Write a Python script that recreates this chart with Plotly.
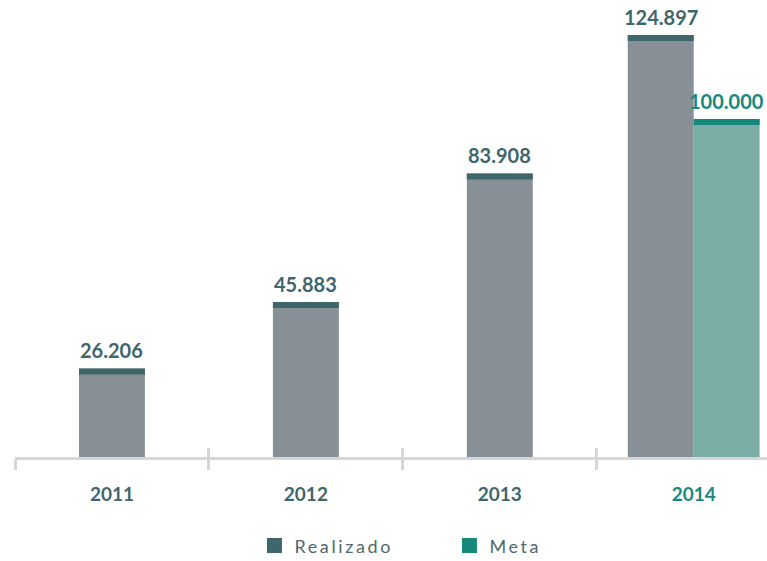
import plotly.graph_objects as go

# ---- data ----
categories = ["2011", "2012", "2013", "2014"]
realizado = [26206, 45883, 83908, 124897]
meta = [None, None, None, 100000]
highlight = ["2014"]

# ---- style ----
GRAY = "#869096"
CAP_R = "#3e666b"
TEAL_BODY = "#7aada6"
CAP_M = "#17897c"
AXIS = "#d6d6d6"
FONT = "Lato"
BAR_W = 0.34
CAP_PX = 6


def fmt(v):
    return f"{v:,}".replace(",", ".")


off_r = [-BAR_W / 2 if m is None else -BAR_W for m in meta]
meta_x = [c for c, m in zip(categories, meta) if m is not None]
meta_y = [m for m in meta if m is not None]

fig = go.Figure()
fig.add_trace(go.Bar(x=categories, y=realizado, width=BAR_W, offset=off_r,
                     marker=dict(color=GRAY, line=dict(width=0)),
                     showlegend=False, hoverinfo="skip"))
fig.add_trace(go.Bar(x=meta_x, y=meta_y, width=BAR_W, offset=0,
                     marker=dict(color=TEAL_BODY, line=dict(width=0)),
                     showlegend=False, hoverinfo="skip"))
# legend entries
fig.add_trace(go.Scatter(x=[None], y=[None], name="Realizado", mode="markers",
                         marker=dict(color=CAP_R, symbol="square", size=15)))
fig.add_trace(go.Scatter(x=[None], y=[None], name="Meta", mode="markers",
                         marker=dict(color=CAP_M, symbol="square", size=15)))
# helper trace for the upper halves of axis ticks
fig.add_trace(go.Scatter(x=categories, y=realizado, xaxis="x2", mode="none",
                         showlegend=False, hoverinfo="skip"))

shapes = []
annotations = []
for i, v in enumerate(realizado):
    x0 = i + off_r[i]
    shapes.append(dict(type="rect", xref="x", yref="y", x0=x0, x1=x0 + BAR_W,
                       ysizemode="pixel", yanchor=v, y0=-CAP_PX, y1=0,
                       fillcolor=CAP_R, line=dict(width=0), layer="above"))
    annotations.append(dict(x=x0 + BAR_W / 2, y=v, xref="x", yref="y", text=fmt(v),
                            showarrow=False, yanchor="bottom", yshift=4,
                            font=dict(family=FONT, size=20, color=CAP_R, weight="bold")))
for i, m in enumerate(meta):
    if m is None:
        continue
    x0 = i
    shapes.append(dict(type="rect", xref="x", yref="y", x0=x0, x1=x0 + BAR_W,
                       ysizemode="pixel", yanchor=m, y0=-CAP_PX, y1=0,
                       fillcolor=CAP_M, line=dict(width=0), layer="above"))
    annotations.append(dict(x=x0 + BAR_W / 2, y=m, xref="x", yref="y", text=fmt(m),
                            showarrow=False, yanchor="bottom", yshift=4,
                            font=dict(family=FONT, size=20, color=CAP_M, weight="bold")))

ticktext = [f'<span style="color:{CAP_M}">{c}</span>' if c in highlight else c
            for c in categories]

fig.update_layout(
    width=767, height=561,
    margin=dict(l=15, r=0, t=20, b=104),
    paper_bgcolor="white", plot_bgcolor="white",
    barmode="overlay",
    font=dict(family=FONT, color=CAP_R),
    xaxis=dict(type="category", categoryorder="array", categoryarray=categories,
               range=[-0.5, 3.378], tickson="boundaries", ticks="outside",
               ticklen=10, tickwidth=2.5, tickcolor=AXIS,
               showline=True, linewidth=3, linecolor=AXIS, showgrid=False,
               tickvals=categories, ticktext=ticktext, ticklabelstandoff=18,
               tickfont=dict(family=FONT, size=19, color=CAP_R, weight="bold"),
               fixedrange=True),
    xaxis2=dict(overlaying="x", matches="x", type="category", side="bottom",
                tickson="boundaries", ticks="inside", ticklen=9, tickwidth=2.5,
                tickcolor=AXIS, showticklabels=False, showline=False, showgrid=False),
    yaxis=dict(range=[0, 129300], visible=False, showgrid=False, fixedrange=True),
    legend=dict(orientation="h", xref="container", yref="container",
                x=0.586, xanchor="center", y=0.027, yanchor="middle",
                font=dict(family=FONT, size=18, color="#4f686d"),
                entrywidth=150, traceorder="normal"),
    shapes=shapes,
    annotations=annotations,
    showlegend=True,
)

fig.write_html("out.html",
               config={"displayModeBar": False},
               post_script=("document.body.style.margin='0';"
                            "document.querySelectorAll('.legendtext').forEach(function(e){e.style.letterSpacing='2.6px';});"))
